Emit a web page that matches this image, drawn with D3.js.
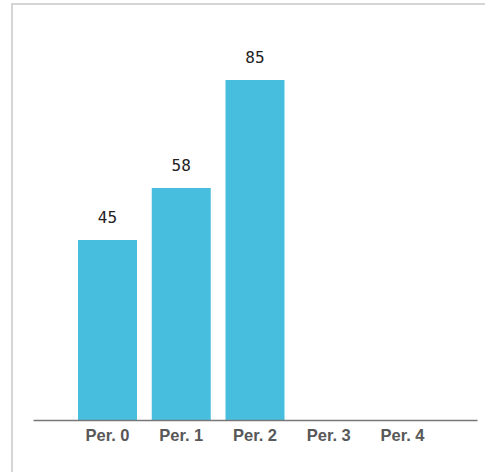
<!DOCTYPE html>
<html>
<head>
<meta charset="utf-8">
<script src="https://cdn.jsdelivr.net/npm/d3@7"></script>
<style>
  html, body { margin: 0; padding: 0; background: #fff; }
  svg { display: block; }
  .value-label { font-family: "DejaVu Sans Mono", "Liberation Mono", monospace; }
</style>
</head>
<body>
<svg id="chart" width="485" height="472"></svg>
<script>
// Values per period; later periods have no value yet
const categories = ["Per. 0", "Per. 1", "Per. 2", "Per. 3", "Per. 4"];
const values = [45, 58, 85, null, null];

const svg = d3.select("#chart");

// Panel frame (runs off the right and bottom edges)
svg.append("rect")
  .attr("x", 12).attr("y", 4)
  .attr("width", 500).attr("height", 500)
  .attr("fill", "#fff")
  .attr("stroke", "#c8c8c8")
  .attr("stroke-width", 1.5);

const x = d3.scaleBand()
  .domain(categories)
  .range([33, 477])
  .paddingInner(0.2)
  .paddingOuter(0.61);

const y = d3.scaleLinear()
  .domain([0, 100])
  .range([420, 20]);

const data = categories.map((c, i) => ({ cat: c, value: values[i] }));
const filled = data.filter(d => d.value != null);

// Bars
svg.append("g")
  .selectAll("rect")
  .data(filled)
  .join("rect")
  .attr("x", d => x(d.cat))
  .attr("y", d => y(d.value))
  .attr("width", x.bandwidth())
  .attr("height", d => y(0) - y(d.value))
  .attr("fill", "#48bedf");

// Value labels above bars
svg.append("g")
  .selectAll("text")
  .data(filled)
  .join("text")
  .attr("class", "value-label")
  .attr("x", d => x(d.cat) + x.bandwidth() / 2)
  .attr("y", d => y(d.value) - 17)
  .attr("text-anchor", "middle")
  .attr("font-size", 16)
  .attr("fill", "#222")
  .text(d => d.value);

// Category axis
const axis = svg.append("g")
  .attr("transform", `translate(0,${y(0)})`)
  .call(d3.axisBottom(x).tickSize(0).tickSizeOuter(0));

axis.select(".domain")
  .attr("stroke", "#777")
  .attr("stroke-width", 1.5);

axis.selectAll(".tick text")
  .attr("y", 21)
  .attr("dy", 0)
  .attr("font-family", "'Liberation Sans', Arial, sans-serif")
  .attr("font-weight", "bold")
  .attr("font-size", 16.5)
  .attr("fill", "#585858");
</script>
</body>
</html>
